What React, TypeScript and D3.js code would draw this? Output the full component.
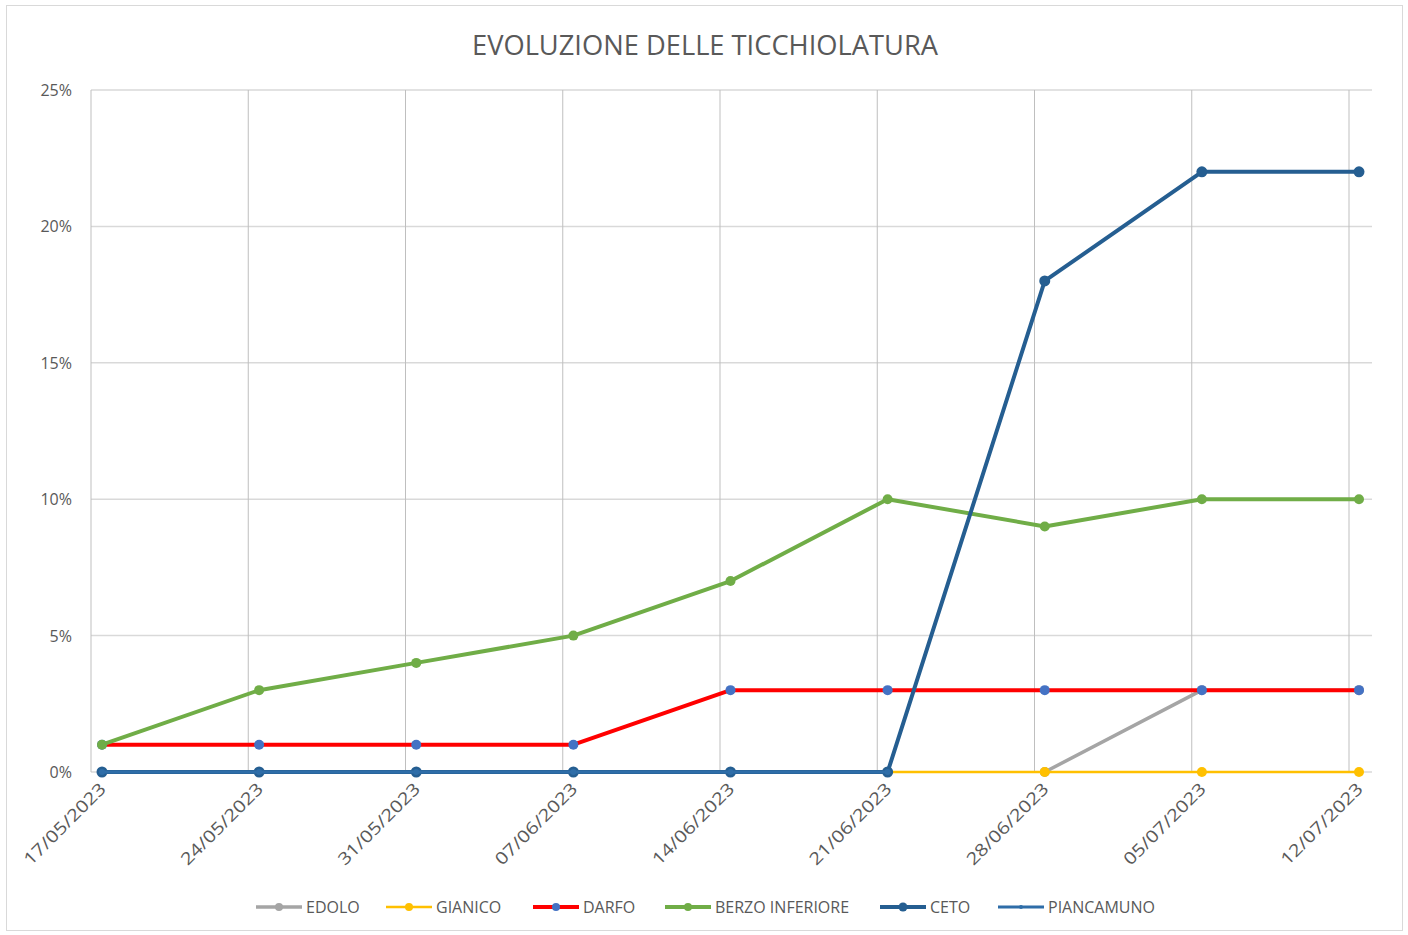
import React from 'react';
import * as d3 from 'd3';

const dates = ['17/05/2023', '24/05/2023', '31/05/2023', '07/06/2023', '14/06/2023', '21/06/2023', '28/06/2023', '05/07/2023', '12/07/2023'];

const edolo = [null, null, null, null, null, null, 0, 3, 3];
const gianico = [null, null, null, null, null, 0, 0, 0, 0];
const darfo = [1, 1, 1, 1, 3, 3, 3, 3, 3];
const berzo = [1, 3, 4, 5, 7, 10, 9, 10, 10];
const ceto = [0, 0, 0, 0, 0, 0, 18, 22, 22];
const piancamuno = [0, 0, 0, 0, 0, 0, null, null, null];

const yTicks = [0, 5, 10, 15, 20, 25];

interface Series {
	name: string
	values: (number | null)[]
	stroke: string
	width: number
	marker: string
	r: number
}

const series: Series[] = [
	{ name: 'EDOLO', values: edolo, stroke: '#A5A5A5', width: 3.5, marker: '#A5A5A5', r: 5 },
	{ name: 'GIANICO', values: gianico, stroke: '#FFC000', width: 2.5, marker: '#FFC000', r: 5 },
	{ name: 'DARFO', values: darfo, stroke: '#FF0000', width: 4, marker: '#4472C4', r: 5 },
	{ name: 'BERZO INFERIORE', values: berzo, stroke: '#70AD47', width: 4, marker: '#70AD47', r: 5 },
	{ name: 'CETO', values: ceto, stroke: '#255E91', width: 4, marker: '#255E91', r: 5.5 },
	{ name: 'PIANCAMUNO', values: piancamuno, stroke: '#2E6DA8', width: 3, marker: '#2E6DA8', r: 3 },
];

const legendX = [256, 386, 533, 665, 880, 998];

const font = '"Open Sans", "Noto Sans", sans-serif';

const App: React.FC = () => {
	const width = 1408;
	const height = 935;
	const plotLeft = 91;
	const plotRight = 1372;

	const xPoint = d3.scalePoint<string>().domain(dates).range([102, 1359]);
	const xGrid = d3.scalePoint<string>().domain(dates).range([91, 1349]);
	const y = d3.scaleLinear().domain([0, 25]).range([772, 90]);

	const line = d3.line<number | null>()
		.defined(d => d != null)
		.x((_, i) => xPoint(dates[i]) as number)
		.y(d => y(d as number));

	return (
		<svg width={width} height={height} style={{ position: 'absolute', left: 0, top: 0, background: '#fff' }}>
			<rect x={6.5} y={5.5} width={1396} height={925} fill="#fff" stroke="#D9D9D9" />
			<text x={705} y={55} textAnchor="middle" fontFamily={font} fontSize={27} fill="#595959" textLength={466} lengthAdjust="spacingAndGlyphs">EVOLUZIONE DELLE TICCHIOLATURA</text>

			{yTicks.map(t => (
				<g key={t}>
					<line x1={plotLeft} x2={plotRight} y1={y(t)} y2={y(t)} stroke="#D9D9D9" strokeWidth={1.5} />
					<text x={72} y={y(t) + 6} textAnchor="end" fontFamily={font} fontSize={16} fill="#595959">{t}%</text>
				</g>
			))}

			{dates.map(d => (
				<line key={d} x1={xGrid(d)} x2={xGrid(d)} y1={90} y2={772} stroke="#BFBFBF" strokeWidth={1} />
			))}

			{dates.map(d => {
				const px = (xPoint(d) as number) + 5;
				return (
					<text key={d} transform={`translate(${px},790) rotate(-45)`} textAnchor="end" fontFamily={font} fontSize={17} fill="#595959" textLength={108} lengthAdjust="spacingAndGlyphs">{d}</text>
				);
			})}

			{series.map(s => (
				<g key={s.name}>
					<path d={line(s.values) || ''} fill="none" stroke={s.stroke} strokeWidth={s.width} strokeLinejoin="round" />
					{s.values.map((v, i) => v == null ? null : (
						<circle key={i} cx={xPoint(dates[i])} cy={y(v)} r={s.r} fill={s.marker} />
					))}
				</g>
			))}

			{series.map((s, i) => (
				<g key={s.name} transform={`translate(${legendX[i]},907)`}>
					<line x1={0} x2={46} y1={0} y2={0} stroke={s.stroke} strokeWidth={s.width} />
					<circle cx={23} cy={0} r={s.r - 1} fill={s.marker} />
					<text x={50} y={6} fontFamily={font} fontSize={16} fill="#595959">{s.name}</text>
				</g>
			))}
		</svg>
	);
};

export default App;
